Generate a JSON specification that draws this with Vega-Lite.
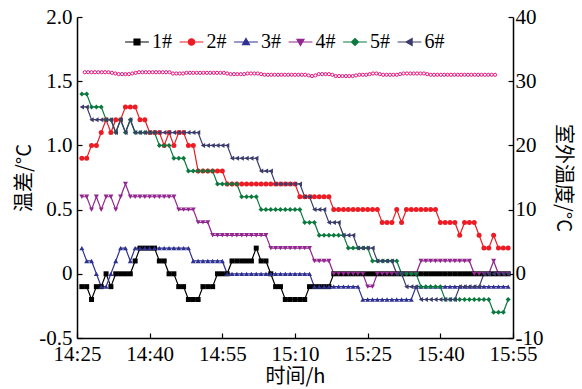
{
  "$schema": "https://vega.github.io/schema/vega-lite/v6.json",
  "width": 436,
  "height": 321,
  "autosize": "none",
  "padding": {"left": 77, "top": 17, "right": 69, "bottom": 51},
  "background": "white",
  "config": {
    "view": {"stroke": null},
    "axis": {
      "grid": false,
      "domainColor": "black",
      "domainWidth": 1.5,
      "tickColor": "black",
      "tickWidth": 1.2,
      "tickSize": -5,
      "labelFont": "Liberation Serif, DejaVu Serif, serif",
      "labelFontSize": 21,
      "labelColor": "black",
      "labelFlush": false,
      "labelOverlap": false,
      "titleFont": "Noto Sans CJK SC",
      "titleFontSize": 20,
      "titleFontWeight": "normal",
      "titleColor": "black"
    },
    "legend": {
      "orient": "none",
      "legendX": 50,
      "legendY": 15,
      "direction": "horizontal",
      "labelFont": "Liberation Serif, DejaVu Serif, serif",
      "labelFontSize": 20,
      "labelColor": "black",
      "symbolSize": 49,
      "symbolStrokeWidth": 1.2,
      "symbolOpacity": 1,
      "labelOffset": 5,
      "columnPadding": 4.5
    }
  },
  "datasets": {
    "s": [
      {"t":1,"1#":-0.1,"2#":0.9,"3#":0.2,"4#":0.6,"5#":1.4,"6#":1.3},
      {"t":2,"1#":-0.1,"2#":0.9,"3#":0.1,"4#":0.6,"5#":1.4,"6#":1.3},
      {"t":3,"1#":-0.2,"2#":1.0,"3#":0.1,"4#":0.5,"5#":1.3,"6#":1.2},
      {"t":4,"1#":-0.1,"2#":1.0,"3#":0,"4#":0.6,"5#":1.3,"6#":1.2},
      {"t":5,"1#":-0.1,"2#":1.1,"3#":-0.1,"4#":0.5,"5#":1.3,"6#":1.2},
      {"t":6,"1#":0,"2#":1.2,"3#":-0.1,"4#":0.6,"5#":1.2,"6#":1.2},
      {"t":7,"1#":-0.1,"2#":1.1,"3#":0,"4#":0.6,"5#":1.2,"6#":1.2},
      {"t":8,"1#":0,"2#":1.2,"3#":0.1,"4#":0.5,"5#":1.1,"6#":1.1},
      {"t":9,"1#":0,"2#":1.2,"3#":0.2,"4#":0.6,"5#":1.2,"6#":1.2},
      {"t":10,"1#":0,"2#":1.3,"3#":0.2,"4#":0.7,"5#":1.1,"6#":1.1},
      {"t":11,"1#":0,"2#":1.3,"3#":0.1,"4#":0.6,"5#":1.2,"6#":1.2},
      {"t":12,"1#":0.1,"2#":1.3,"3#":0.2,"4#":0.6,"5#":1.1,"6#":1.1},
      {"t":13,"1#":0.2,"2#":1.2,"3#":0.2,"4#":0.6,"5#":1.1,"6#":1.1},
      {"t":14,"1#":0.2,"2#":1.2,"3#":0.2,"4#":0.6,"5#":1.1,"6#":1.1},
      {"t":15,"1#":0.2,"2#":1.1,"3#":0.2,"4#":0.6,"5#":1.1,"6#":1.1},
      {"t":16,"1#":0.2,"2#":1.1,"3#":0.2,"4#":0.6,"5#":1.1,"6#":1.1},
      {"t":17,"1#":0.1,"2#":1.1,"3#":0.2,"4#":0.6,"5#":1.0,"6#":1.1},
      {"t":18,"1#":0.1,"2#":1.0,"3#":0.2,"4#":0.6,"5#":1.0,"6#":1.1},
      {"t":19,"1#":0,"2#":1.1,"3#":0.2,"4#":0.6,"5#":1.0,"6#":1.1},
      {"t":20,"1#":0,"2#":1.0,"3#":0.2,"4#":0.6,"5#":0.9,"6#":1.1},
      {"t":21,"1#":-0.1,"2#":1.1,"3#":0.2,"4#":0.5,"5#":0.9,"6#":1.1},
      {"t":22,"1#":-0.1,"2#":1.1,"3#":0.2,"4#":0.5,"5#":0.9,"6#":1.1},
      {"t":23,"1#":-0.2,"2#":1.0,"3#":0.2,"4#":0.5,"5#":0.8,"6#":1.1},
      {"t":24,"1#":-0.2,"2#":1.0,"3#":0.1,"4#":0.5,"5#":0.8,"6#":1.1},
      {"t":25,"1#":-0.2,"2#":0.8,"3#":0.1,"4#":0.4,"5#":0.8,"6#":1.1},
      {"t":26,"1#":-0.1,"2#":0.8,"3#":0.1,"4#":0.4,"5#":0.8,"6#":1.0},
      {"t":27,"1#":-0.1,"2#":0.8,"3#":0.1,"4#":0.4,"5#":0.8,"6#":1.0},
      {"t":28,"1#":-0.1,"2#":0.8,"3#":0.1,"4#":0.3,"5#":0.8,"6#":1.0},
      {"t":29,"1#":0,"2#":0.8,"3#":0.1,"4#":0.3,"5#":0.7,"6#":1.0},
      {"t":30,"1#":0,"2#":0.8,"3#":0.1,"4#":0.3,"5#":0.7,"6#":1.0},
      {"t":31,"1#":0,"2#":0.7,"3#":0,"4#":0.3,"5#":0.7,"6#":1.0},
      {"t":32,"1#":0.1,"2#":0.7,"3#":0,"4#":0.3,"5#":0.7,"6#":0.9},
      {"t":33,"1#":0.1,"2#":0.7,"3#":0,"4#":0.3,"5#":0.7,"6#":0.9},
      {"t":34,"1#":0.1,"2#":0.7,"3#":0,"4#":0.3,"5#":0.6,"6#":0.9},
      {"t":35,"1#":0.1,"2#":0.7,"3#":0,"4#":0.3,"5#":0.6,"6#":0.9},
      {"t":36,"1#":0.1,"2#":0.7,"3#":0,"4#":0.3,"5#":0.6,"6#":0.9},
      {"t":37,"1#":0.2,"2#":0.7,"3#":0,"4#":0.3,"5#":0.6,"6#":0.9},
      {"t":38,"1#":0.1,"2#":0.7,"3#":0,"4#":0.3,"5#":0.5,"6#":0.8},
      {"t":39,"1#":0.1,"2#":0.7,"3#":0,"4#":0.3,"5#":0.5,"6#":0.8},
      {"t":40,"1#":0,"2#":0.7,"3#":0,"4#":0.2,"5#":0.5,"6#":0.8},
      {"t":41,"1#":-0.1,"2#":0.7,"3#":0,"4#":0.2,"5#":0.5,"6#":0.7},
      {"t":42,"1#":-0.1,"2#":0.7,"3#":0,"4#":0.2,"5#":0.5,"6#":0.7},
      {"t":43,"1#":-0.2,"2#":0.7,"3#":0,"4#":0.2,"5#":0.5,"6#":0.7},
      {"t":44,"1#":-0.2,"2#":0.7,"3#":0,"4#":0.2,"5#":0.5,"6#":0.7},
      {"t":45,"1#":-0.2,"2#":0.7,"3#":0,"4#":0.2,"5#":0.5,"6#":0.7},
      {"t":46,"1#":-0.2,"2#":0.6,"3#":0,"4#":0.2,"5#":0.5,"6#":0.7},
      {"t":47,"1#":-0.2,"2#":0.6,"3#":0,"4#":0.2,"5#":0.4,"6#":0.6},
      {"t":48,"1#":-0.1,"2#":0.6,"3#":0,"4#":0.2,"5#":0.4,"6#":0.6},
      {"t":49,"1#":-0.1,"2#":0.6,"3#":-0.1,"4#":0.1,"5#":0.4,"6#":0.5},
      {"t":50,"1#":-0.1,"2#":0.6,"3#":-0.1,"4#":0.1,"5#":0.3,"6#":0.5},
      {"t":51,"1#":-0.1,"2#":0.6,"3#":-0.1,"4#":0.1,"5#":0.3,"6#":0.5},
      {"t":52,"1#":-0.1,"2#":0.6,"3#":-0.1,"4#":0.1,"5#":0.3,"6#":0.4},
      {"t":53,"1#":0,"2#":0.5,"3#":-0.1,"4#":0,"5#":0.3,"6#":0.4},
      {"t":54,"1#":0,"2#":0.5,"3#":-0.1,"4#":0,"5#":0.3,"6#":0.4},
      {"t":55,"1#":0,"2#":0.5,"3#":-0.1,"4#":0,"5#":0.3,"6#":0.3},
      {"t":56,"1#":0,"2#":0.5,"3#":-0.1,"4#":0,"5#":0.2,"6#":0.3},
      {"t":57,"1#":0,"2#":0.5,"3#":-0.1,"4#":0,"5#":0.2,"6#":0.3},
      {"t":58,"1#":0,"2#":0.5,"3#":-0.1,"4#":0,"5#":0.2,"6#":0.2},
      {"t":59,"1#":0,"2#":0.5,"3#":-0.2,"4#":0,"5#":0.2,"6#":0.2},
      {"t":60,"1#":0,"2#":0.5,"3#":-0.2,"4#":-0.1,"5#":0.2,"6#":0.2},
      {"t":61,"1#":0,"2#":0.5,"3#":-0.2,"4#":-0.1,"5#":0.1,"6#":0.2},
      {"t":62,"1#":0,"2#":0.5,"3#":-0.2,"4#":0,"5#":0.1,"6#":0.1},
      {"t":63,"1#":0,"2#":0.4,"3#":-0.2,"4#":0,"5#":0.1,"6#":0.1},
      {"t":64,"1#":0,"2#":0.4,"3#":-0.2,"4#":0,"5#":0.1,"6#":0.1},
      {"t":65,"1#":0,"2#":0.4,"3#":-0.2,"4#":0,"5#":0.1,"6#":0.1},
      {"t":66,"1#":0,"2#":0.5,"3#":-0.2,"4#":0,"5#":0.1,"6#":0},
      {"t":67,"1#":0,"2#":0.4,"3#":-0.2,"4#":0,"5#":0,"6#":0},
      {"t":68,"1#":0,"2#":0.5,"3#":-0.2,"4#":0,"5#":0,"6#":-0.1},
      {"t":69,"1#":0,"2#":0.5,"3#":-0.2,"4#":0,"5#":0,"6#":-0.1},
      {"t":70,"1#":0,"2#":0.5,"3#":-0.1,"4#":0,"5#":0,"6#":-0.1},
      {"t":71,"1#":0,"2#":0.5,"3#":-0.1,"4#":0.1,"5#":-0.1,"6#":-0.2},
      {"t":72,"1#":0,"2#":0.5,"3#":-0.1,"4#":0.1,"5#":-0.1,"6#":-0.2},
      {"t":73,"1#":0,"2#":0.5,"3#":-0.1,"4#":0.1,"5#":-0.1,"6#":-0.2},
      {"t":74,"1#":0,"2#":0.5,"3#":-0.1,"4#":0.1,"5#":-0.1,"6#":-0.2},
      {"t":75,"1#":0,"2#":0.4,"3#":-0.1,"4#":0.1,"5#":-0.1,"6#":-0.2},
      {"t":76,"1#":0,"2#":0.4,"3#":-0.1,"4#":0.1,"5#":-0.2,"6#":-0.2},
      {"t":77,"1#":0,"2#":0.4,"3#":-0.1,"4#":0.1,"5#":-0.2,"6#":-0.2},
      {"t":78,"1#":0,"2#":0.4,"3#":-0.1,"4#":0.1,"5#":-0.2,"6#":-0.2},
      {"t":79,"1#":0,"2#":0.3,"3#":-0.1,"4#":0.1,"5#":-0.2,"6#":-0.1},
      {"t":80,"1#":0,"2#":0.4,"3#":-0.1,"4#":0.1,"5#":-0.2,"6#":-0.1},
      {"t":81,"1#":0,"2#":0.4,"3#":-0.1,"4#":0.1,"5#":-0.2,"6#":-0.1},
      {"t":82,"1#":0,"2#":0.4,"3#":-0.1,"4#":0,"5#":-0.2,"6#":-0.1},
      {"t":83,"1#":0,"2#":0.3,"3#":-0.1,"4#":0,"5#":-0.2,"6#":-0.1},
      {"t":84,"1#":0,"2#":0.2,"3#":-0.1,"4#":0,"5#":-0.2,"6#":0},
      {"t":85,"1#":0,"2#":0.2,"3#":-0.1,"4#":0,"5#":-0.2,"6#":0},
      {"t":86,"1#":0,"2#":0.3,"3#":-0.1,"4#":0.1,"5#":-0.3,"6#":0},
      {"t":87,"1#":0,"2#":0.2,"3#":-0.1,"4#":0,"5#":-0.3,"6#":0},
      {"t":88,"1#":0,"2#":0.2,"3#":-0.1,"4#":0,"5#":-0.3,"6#":0},
      {"t":89,"1#":0,"2#":0.2,"3#":-0.1,"4#":0,"5#":-0.2,"6#":0}
    ],
    "p": [
      {"t":1.6,"o":31.4},{"t":2.3,"o":31.4},{"t":3.0,"o":31.4},{"t":3.7,"o":31.4},{"t":4.4,"o":31.4},{"t":5.1,"o":31.4},{"t":5.8,"o":31.4},{"t":6.5,"o":31.4},{"t":7.2,"o":31.3},
      {"t":7.9,"o":31.2},{"t":8.6,"o":31.1},{"t":9.3,"o":31.1},{"t":10.0,"o":31.1},{"t":10.7,"o":31.1},{"t":11.4,"o":31.2},{"t":12.1,"o":31.3},
      {"t":12.8,"o":31.4},{"t":13.5,"o":31.4},{"t":14.2,"o":31.4},{"t":14.9,"o":31.4},{"t":15.6,"o":31.4},{"t":16.3,"o":31.4},{"t":17.0,"o":31.4},{"t":17.7,"o":31.4},{"t":18.4,"o":31.4},{"t":19.1,"o":31.4},
      {"t":19.8,"o":31.2},{"t":20.5,"o":31.2},{"t":21.2,"o":31.2},{"t":21.9,"o":31.2},
      {"t":22.6,"o":31.3},{"t":23.3,"o":31.3},{"t":24.0,"o":31.3},{"t":24.7,"o":31.3},{"t":25.4,"o":31.3},{"t":26.1,"o":31.3},{"t":26.8,"o":31.3},{"t":27.5,"o":31.3},{"t":28.2,"o":31.3},{"t":28.9,"o":31.3},{"t":29.6,"o":31.3},{"t":30.3,"o":31.3},{"t":31.0,"o":31.2},
      {"t":31.7,"o":31.1},{"t":32.4,"o":31.1},{"t":33.1,"o":31.1},{"t":33.8,"o":31.1},{"t":34.5,"o":31.1},
      {"t":35.2,"o":31.2},{"t":35.9,"o":31.2},{"t":36.6,"o":31.2},{"t":37.3,"o":31.2},{"t":38.0,"o":31.1},
      {"t":38.7,"o":31.0},{"t":39.4,"o":31.0},{"t":40.1,"o":31.0},{"t":40.8,"o":31.0},{"t":41.5,"o":31.0},{"t":42.2,"o":31.0},{"t":42.9,"o":31.0},{"t":43.6,"o":31.0},{"t":44.3,"o":31.0},{"t":45.0,"o":31.0},{"t":45.7,"o":31.0},{"t":46.4,"o":31.0},{"t":47.1,"o":31.0},{"t":47.8,"o":30.9},
      {"t":48.5,"o":30.8},{"t":49.2,"o":30.9},
      {"t":49.9,"o":31.1},{"t":50.6,"o":31.1},{"t":51.3,"o":31.1},{"t":52.0,"o":31.1},{"t":52.7,"o":31.0},
      {"t":53.4,"o":30.8},{"t":54.1,"o":30.8},{"t":54.8,"o":30.8},{"t":55.5,"o":30.8},{"t":56.2,"o":30.8},{"t":56.9,"o":30.8},{"t":57.6,"o":30.9},
      {"t":58.3,"o":31.0},{"t":59.0,"o":31.0},{"t":59.7,"o":31.0},{"t":60.4,"o":31.1},
      {"t":61.1,"o":31.2},{"t":61.8,"o":31.2},{"t":62.5,"o":31.1},
      {"t":63.2,"o":31.0},{"t":63.9,"o":31.0},{"t":64.6,"o":31.0},{"t":65.3,"o":31.0},{"t":66.0,"o":31.0},{"t":66.7,"o":31.1},
      {"t":67.4,"o":31.2},{"t":68.1,"o":31.2},{"t":68.8,"o":31.2},{"t":69.5,"o":31.2},{"t":70.2,"o":31.2},{"t":70.9,"o":31.2},{"t":71.6,"o":31.2},{"t":72.3,"o":31.1},
      {"t":73.0,"o":31.0},{"t":73.7,"o":31.0},{"t":74.4,"o":31.0},{"t":75.1,"o":31.0},{"t":75.8,"o":31.0},{"t":76.5,"o":31.0},{"t":77.2,"o":31.0},{"t":77.9,"o":31.0},{"t":78.6,"o":31.0},{"t":79.3,"o":31.0},{"t":80.0,"o":31.0},{"t":80.7,"o":31.0},{"t":81.4,"o":31.0},{"t":82.1,"o":31.0},{"t":82.8,"o":31.0},{"t":83.5,"o":31.0},{"t":84.2,"o":31.0},{"t":84.9,"o":31.0},{"t":85.6,"o":31.0},{"t":86.3,"o":31.0}
    ]
  },
  "encoding": {
    "x": {
      "field": "t", "type": "quantitative",
      "scale": {"domain": [0, 90], "nice": false, "zero": false},
      "axis": {
        "values": [0, 15, 30, 45, 60, 75, 90],
        "labelExpr": "['14:25','14:40','14:55','15:10','15:25','15:40','15:55'][round(datum.value/15)]",
        "labelPadding": 10,
        "title": "时间/h",
        "titlePadding": 2
      }
    }
  },
  "layer": [
    {
      "data": {"name": "s"},
      "transform": [{"fold": ["1#", "2#", "3#", "4#", "5#", "6#"], "as": ["series", "v"]}],
      "encoding": {
        "y": {
          "field": "v", "type": "quantitative",
          "scale": {"domain": [-0.5, 2.0], "nice": false, "zero": false},
          "axis": {
            "orient": "left",
            "values": [-0.5, 0, 0.5, 1, 1.5, 2],
            "labelExpr": "datum.value == 0 ? '0' : (datum.value < 0 ? '-' : '') + format(abs(datum.value), '.1f')",
            "labelPadding": 10,
            "title": "温差/°C",
            "titlePadding": 4
          }
        },
        "color": {
          "field": "series", "type": "nominal",
          "scale": {
            "domain": ["1#", "2#", "3#", "4#", "5#", "6#"],
            "range": ["#000000", "#ed1c24", "#2e3192", "#92278f", "#0b7a3e", "#3c3c6c"]
          },
          "legend": {"title": null}
        }
      },
      "layer": [
        {"mark": {"type": "line", "strokeWidth": 1.2}},
        {"transform": [{"filter": "datum.series === '1#'"}], "mark": {"type": "point", "shape": "square", "filled": true, "size": 25, "opacity": 1}},
        {"transform": [{"filter": "datum.series === '2#'"}], "mark": {"type": "point", "shape": "circle", "filled": true, "size": 25, "opacity": 1}},
        {"transform": [{"filter": "datum.series === '3#'"}], "mark": {"type": "point", "shape": "triangle-up", "filled": true, "size": 25, "opacity": 1}},
        {"transform": [{"filter": "datum.series === '4#'"}], "mark": {"type": "point", "shape": "triangle-down", "filled": true, "size": 25, "opacity": 1}},
        {"transform": [{"filter": "datum.series === '5#'"}], "mark": {"type": "point", "shape": "diamond", "filled": true, "size": 25, "opacity": 1}},
        {"transform": [{"filter": "datum.series === '6#'"}], "mark": {"type": "point", "shape": "triangle-left", "filled": true, "size": 25, "opacity": 1}},
        {
          "transform": [{"filter": "false"}],
          "mark": {"type": "point", "filled": true, "opacity": 1},
          "encoding": {
            "shape": {
              "field": "series", "type": "nominal",
              "scale": {
                "domain": ["1#", "2#", "3#", "4#", "5#", "6#"],
                "range": [
                  "M-3.4,0H3.4M-0.85,-0.85H0.85V0.85H-0.85Z",
                  "M-3.4,0H3.4M0.9,0A0.9,0.9 0 1,1 -0.9,0A0.9,0.9 0 1,1 0.9,0Z",
                  "M-3.4,0H3.4M0,-1L1,0.75H-1Z",
                  "M-3.4,0H3.4M0,1L1,-0.75H-1Z",
                  "M-3.4,0H3.4M0,-1L1,0L0,1L-1,0Z",
                  "M-3.4,0H3.4M-1,0L0.75,-1V1Z"
                ]
              },
              "legend": {"title": null}
            }
          }
        }
      ]
    },
    {
      "data": {"name": "p"},
      "encoding": {
        "y": {
          "field": "o", "type": "quantitative",
          "scale": {"domain": [-10, 40], "nice": false, "zero": false},
          "axis": {
            "orient": "right",
            "values": [-10, 0, 10, 20, 30, 40],
            "labelExpr": "(datum.value < 0 ? '-' : '') + abs(datum.value)",
            "labelPadding": 7,
            "title": "室外温度/°C",
            "titlePadding": 10
          }
        }
      },
      "layer": [
        {"mark": {"type": "line", "color": "#e8127c", "strokeWidth": 1}},
        {"mark": {"type": "point", "shape": "circle", "filled": false, "fill": "white", "fillOpacity": 1, "stroke": "#e8127c", "strokeWidth": 1, "size": 10, "opacity": 1}}
      ]
    }
  ],
  "resolve": {"scale": {"y": "independent"}}
}
